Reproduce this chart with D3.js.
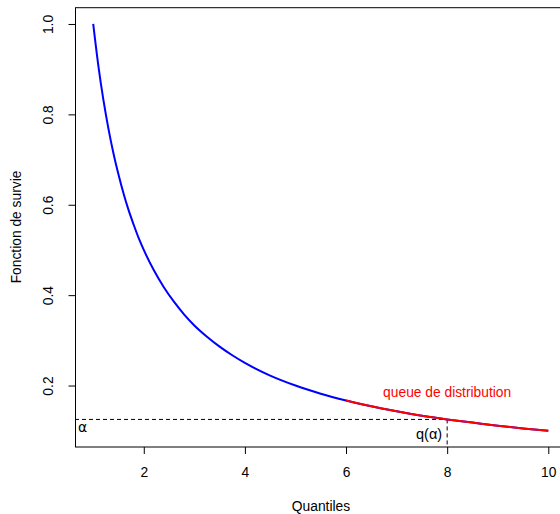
<!DOCTYPE html>
<html>
<head>
<meta charset="utf-8">
<script src="https://cdn.jsdelivr.net/npm/d3@7"></script>
<style>
  body { margin: 0; background: #fff; }
  svg { font-family: "Liberation Sans", Arial, sans-serif; }
</style>
</head>
<body>
<svg id="chart"></svg>
<script>
// values
const quantiles = [1, 1.1, 1.2, 1.3, 1.4, 1.5, 1.6, 1.7, 1.8, 1.9, 2, 2.2, 2.4, 2.6, 2.8, 3, 3.25, 3.5, 3.75, 4, 4.5, 5, 5.5, 6, 6.5, 7, 7.5, 8, 8.5, 9, 9.5, 10];
const survie = [1.000, 0.909, 0.833, 0.769, 0.714, 0.667, 0.625, 0.588, 0.556, 0.526, 0.500, 0.455, 0.417, 0.385, 0.357, 0.333, 0.308, 0.286, 0.267, 0.250, 0.222, 0.200, 0.182, 0.167, 0.154, 0.143, 0.133, 0.125, 0.118, 0.111, 0.105, 0.100];
const xTicks = [2, 4, 6, 8, 10];
const yTicks = [0.2, 0.4, 0.6, 0.8, 1.0];
const tailStart = 6;
const alpha = 0.125;
const qAlpha = 8;

const w = 560, h = 514;
const plotLeft = 75, plotTop = 7.7, plotBottom = 447, plotRight = 566.5;
const fontSize = 13.8;

const chart = d3.select("#chart").attr("width", w).attr("height", h);

//Scales (R style 4% padding)
const x = d3.scaleLinear().domain([0.64, 10.36]).range([plotLeft, plotRight]);
const y = d3.scaleLinear().domain([0.064, 1.036]).range([plotBottom, plotTop]);

const points = quantiles.map((q, i) => [q, survie[i]]);
const tail = points.filter(p => p[0] >= tailStart);

const line = d3.line()
               .x(d => x(d[0]))
               .y(d => y(d[1]))
               .curve(d3.curveMonotoneX);

//Box
chart.append("rect")
     .attr("x", plotLeft + 0.5)
     .attr("y", plotTop)
     .attr("width", plotRight - plotLeft)
     .attr("height", plotBottom - plotTop)
     .attr("fill", "none")
     .attr("stroke", "#000")
     .attr("stroke-width", 1);

//Axes
const xAxis = chart.append("g")
                   .attr("transform", `translate(0, ${plotBottom})`)
                   .call(d3.axisBottom(x).tickValues(xTicks).tickSize(7).tickPadding(13).tickFormat(d3.format("d")));
xAxis.select(".domain").remove();
xAxis.selectAll("text").attr("font-size", fontSize).attr("fill", "#000").attr("font-family", "Liberation Sans, Arial, sans-serif");

const yAxis = chart.append("g")
                   .attr("transform", `translate(${plotLeft + 0.5}, 0)`)
                   .call(d3.axisLeft(y).tickValues(yTicks).tickSize(7).tickFormat(d3.format(".1f")));
yAxis.select(".domain").remove();
yAxis.selectAll("text")
     .attr("font-size", fontSize)
     .attr("fill", "#000")
     .attr("font-family", "Liberation Sans, Arial, sans-serif")
     .attr("x", 0).attr("dy", null)
     .attr("text-anchor", "middle")
     .attr("transform", "translate(-27, 0) rotate(-90)")
     .attr("dominant-baseline", "central");

//Dashed guides
chart.append("line")
     .attr("x1", plotLeft).attr("x2", x(qAlpha))
     .attr("y1", y(alpha)).attr("y2", y(alpha))
     .attr("stroke", "#000").attr("stroke-dasharray", "4,3");
chart.append("line")
     .attr("x1", x(qAlpha)).attr("x2", x(qAlpha))
     .attr("y1", y(alpha)).attr("y2", plotBottom)
     .attr("stroke", "#000").attr("stroke-dasharray", "4,3");

//Curves
chart.append("path")
     .datum(points)
     .attr("d", line)
     .attr("fill", "none")
     .attr("stroke", "#0000ff")
     .attr("stroke-width", 2);
chart.append("path")
     .datum(tail)
     .attr("d", line)
     .attr("fill", "none")
     .attr("stroke", "#ff0000")
     .attr("stroke-width", 2);

//Labels
chart.append("text")
     .attr("x", plotLeft + 3).attr("y", y(alpha) + 13)
     .attr("font-size", 14)
     .attr("font-family", "DejaVu Sans, sans-serif")
     .text("α");
chart.append("text")
     .attr("x", x(qAlpha) - 5).attr("y", y(alpha) + 20)
     .attr("text-anchor", "end")
     .attr("font-size", 14.5)
     .text("q(α)");
chart.append("text")
     .attr("x", x(qAlpha)).attr("y", 397)
     .attr("text-anchor", "middle")
     .attr("font-size", fontSize)
     .attr("fill", "#ff0000")
     .text("queue de distribution");
chart.append("text")
     .attr("x", 321).attr("y", 511)
     .attr("text-anchor", "middle")
     .attr("font-size", fontSize)
     .text("Quantiles");
chart.append("text")
     .attr("transform", `translate(21, 227) rotate(-90)`)
     .attr("text-anchor", "middle")
     .attr("font-size", fontSize)
     .text("Fonction de survie");
</script>
</body>
</html>
